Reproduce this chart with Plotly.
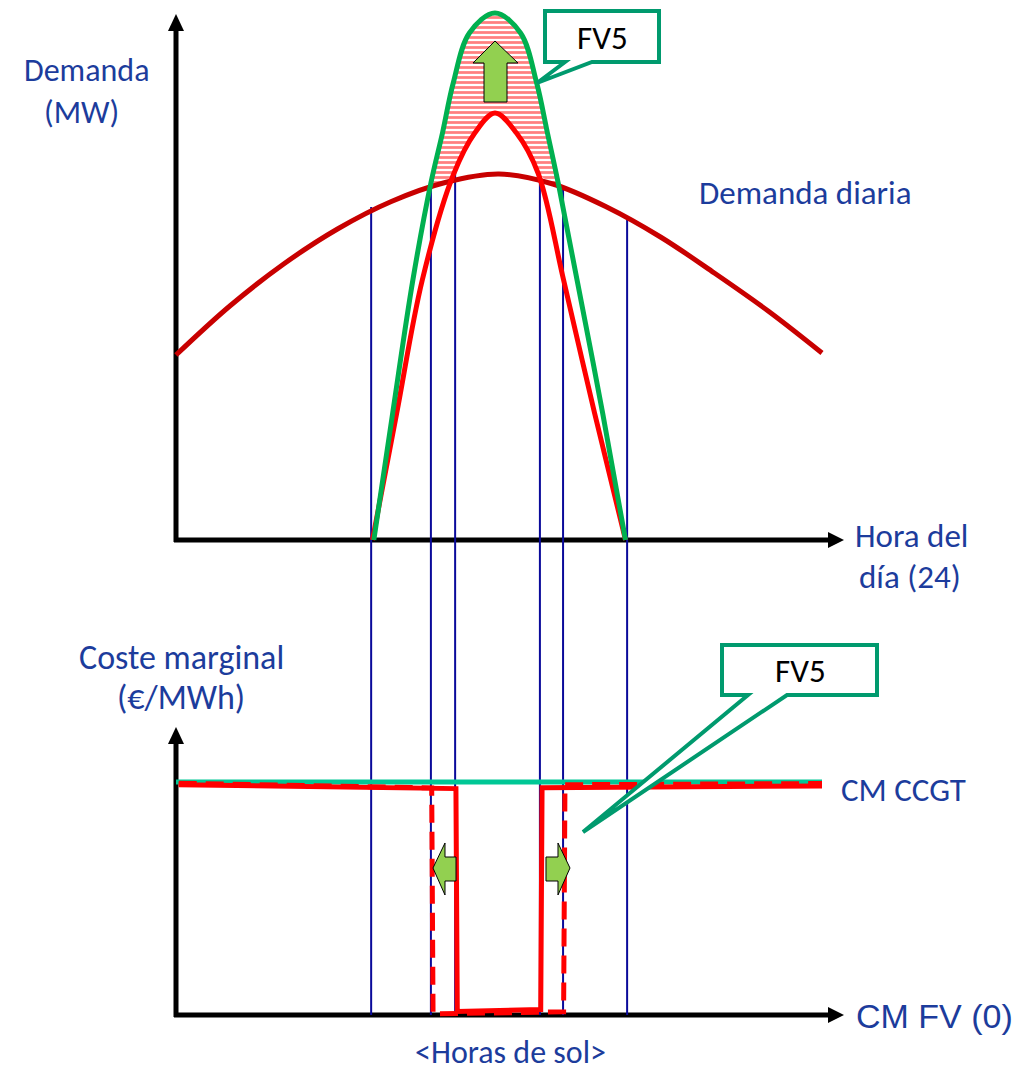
import plotly.graph_objects as go

# ---------------- data ----------------
# Top panel: demand (MW, arbitrary units) vs hour of the day
demand_hours = [0, 2, 4, 6, 8, 10, 12, 14, 16, 18, 20, 22, 24]
demand_mw = [37, 46.8, 55.2, 62.2, 67.7, 71.5, 73.2, 71.2, 66.6, 60.6, 53.4, 45.8, 37.4]

# FV (solar) peak curves
red_hours = [7.3, 8.2, 9.15, 10.3, 11.1, 11.85, 12.65, 13.45, 14.4, 15.55, 16.7]
red_mw = [0, 25.4, 52, 73, 81.4, 85.4, 81.4, 73.4, 52, 25.4, 0]

green_hours = [7.35, 8.05, 8.8, 9.47, 9.9, 10.3, 10.9, 11.85, 12.8, 13.4, 13.8, 14.23, 14.9, 15.85, 16.7]
green_mw = [0, 25.4, 52, 71.4, 81.4, 91.4, 101.4, 105.4, 101.4, 91.4, 81.4, 70.6, 52, 25.4, 0]

# Vertical guide lines (hours) and where they start on the demand curve
guide_hours = [7.25, 9.47, 10.37, 13.52, 14.38, 16.76]
guide_top_mw = [66.6, 71.0, 73.4, 72.0, 70.0, 64.0]

# Bottom panel: marginal cost (EUR/MWh, arbitrary units)
ccgt_hours = [0, 24]
ccgt_cm = [60, 60]
cm_solid_hours = [0.1, 10.4, 10.45, 13.55, 13.6, 24]
cm_solid = [59.3, 58.3, 0.9, 1.4, 58.5, 59.0]
cm_dashed_hours = [0.1, 9.5, 9.55, 14.4, 14.45, 24]
cm_dashed = [59.7, 58.5, 0.3, 0.8, 59.3, 59.6]

# ---------------- figure geometry ----------------
W, H = 1016, 1071
SPLIT = 600  # pixel row separating the two panels


def PX(x):
    return x / W


def PY(y):
    return 1 - y / H


def poly(points):
    return "M " + " L ".join(f"{PX(x):.5f},{PY(y):.5f}" for x, y in points) + " Z"


TEXT_BLUE = "#1C3C9C"
FONT = "Calibri, Carlito, Lato, sans-serif"
NAVY = "#0A0A9A"
CALLOUT = "#009A6E"
ARROW_GREEN = "#92D050"

fig = go.Figure()

# --- hatched area between the green curve and max(red, demand) ---
up = [(h, m) for h, m in zip(green_hours, green_mw) if 9.47 <= h <= 14.23]
low = []
low += [(h, m) for h, m in zip(demand_hours, demand_mw) if 13.45 < h < 14.23][::-1]
low += [(h, m) for h, m in zip(red_hours, red_mw) if 10.3 <= h <= 13.45][::-1]
low += [(h, m) for h, m in zip(demand_hours, demand_mw) if 9.47 < h < 10.3][::-1]
poly_pts = up + low
fig.add_trace(go.Scatter(
    x=[p[0] for p in poly_pts], y=[p[1] for p in poly_pts],
    mode="lines", line=dict(width=0, shape="spline"), fill="toself",
    fillcolor="white",
    fillpattern=dict(shape="-", fgcolor="#FF0000", bgcolor="white", size=5, solidity=0.55),
    hoverinfo="skip", showlegend=False))

# --- vertical guide lines (top panel part and bottom panel part) ---
gx, gy = [], []
for h, t in zip(guide_hours, guide_top_mw):
    gx += [h, h, None]
    gy += [t, -20, None]
fig.add_trace(go.Scatter(x=gx, y=gy, mode="lines", line=dict(color=NAVY, width=2),
                         hoverinfo="skip", showlegend=False))
gx2, gy2 = [], []
for h in guide_hours:
    gx2 += [h, h, None]
    gy2 += [120, 0, None]
fig.add_trace(go.Scatter(x=gx2, y=gy2, yaxis="y2", mode="lines", line=dict(color=NAVY, width=2),
                         hoverinfo="skip", showlegend=False))

# --- curves in top panel ---
fig.add_trace(go.Scatter(x=demand_hours, y=demand_mw, mode="lines",
                         line=dict(color="#C80000", width=5, shape="spline"),
                         hoverinfo="skip", showlegend=False))
fig.add_trace(go.Scatter(x=red_hours, y=red_mw, mode="lines",
                         line=dict(color="#FF0000", width=5, shape="spline"),
                         hoverinfo="skip", showlegend=False))
fig.add_trace(go.Scatter(x=green_hours, y=green_mw, mode="lines",
                         line=dict(color="#00B050", width=5, shape="spline"),
                         hoverinfo="skip", showlegend=False))

# --- bottom panel lines ---
fig.add_trace(go.Scatter(x=ccgt_hours, y=ccgt_cm, yaxis="y2", mode="lines",
                         line=dict(color="#00C896", width=5),
                         hoverinfo="skip", showlegend=False))
fig.add_trace(go.Scatter(x=cm_solid_hours, y=cm_solid, yaxis="y2", mode="lines",
                         line=dict(color="#FF0000", width=5),
                         hoverinfo="skip", showlegend=False))
fig.add_trace(go.Scatter(x=cm_dashed_hours, y=cm_dashed, yaxis="y2", mode="lines",
                         line=dict(color="#FF0000", width=5, dash="18px,9px"),
                         hoverinfo="skip", showlegend=False))

# ---------------- decorations (shapes) ----------------
shapes = []
# axes
for (x0, y0, x1, y1) in [(176, 542, 176, 28), (174, 540, 830, 540),
                         (176, 1017, 176, 742), (174, 1015, 830, 1015)]:
    shapes.append(dict(type="line", xref="paper", yref="paper", x0=PX(x0), y0=PY(y0),
                       x1=PX(x1), y1=PY(y1), line=dict(color="black", width=5), layer="below"))
for pts in [[(176, 14), (184, 31), (168, 31)],
            [(844, 540), (828, 532), (828, 548)],
            [(176, 727), (184, 744), (168, 744)],
            [(844, 1015), (828, 1007), (828, 1023)]]:
    shapes.append(dict(type="path", xref="paper", yref="paper", path=poly(pts),
                       fillcolor="black", line=dict(width=0), layer="below"))

# green arrows
arrow_line = dict(color="black", width=1)
shapes.append(dict(type="path", xref="paper", yref="paper",
                   path=poly([(484, 102), (507, 102), (507, 63), (518, 63), (495, 41),
                              (473, 63), (484, 63)]),
                   fillcolor=ARROW_GREEN, line=arrow_line))
shapes.append(dict(type="path", xref="paper", yref="paper",
                   path=poly([(433, 868), (445, 843), (445, 857), (456, 857), (456, 881),
                              (445, 881), (445, 895)]),
                   fillcolor=ARROW_GREEN, line=arrow_line))
shapes.append(dict(type="path", xref="paper", yref="paper",
                   path=poly([(546, 857), (558, 857), (558, 843), (570, 868), (558, 895),
                              (558, 881), (546, 881)]),
                   fillcolor=ARROW_GREEN, line=arrow_line))

# callouts
shapes.append(dict(type="path", xref="paper", yref="paper",
                   path=poly([(545, 11), (659, 11), (659, 62), (592, 62), (537, 83),
                              (565, 62), (545, 62)]),
                   fillcolor="white", line=dict(color=CALLOUT, width=4)))
shapes.append(dict(type="path", xref="paper", yref="paper",
                   path=poly([(722, 645), (877, 645), (877, 695), (787, 695), (583, 832),
                              (748, 695), (722, 695)]),
                   fillcolor="white", line=dict(color=CALLOUT, width=4)))

# ---------------- text ----------------
annotations = []


def label(text, cx, cy, size=33, color=TEXT_BLUE, family=FONT):
    annotations.append(dict(text=text, x=PX(cx), y=PY(cy), xref="paper", yref="paper",
                            xanchor="center", yanchor="middle", showarrow=False,
                            font=dict(size=size, color=color, family=family)))


label("Demanda", 86, 71, size=32)
label("(MW)", 81, 113, size=32)
label("Demanda diaria", 805, 193)
label("Hora del", 911, 536)
label("día (24)", 910, 577)
label("Coste marginal", 181, 657, size=34)
label("(€/MWh)", 181, 697, size=34)
label("CM CCGT", 903, 790)
label("CM FV (0)", 934, 1016, size=34, family="Liberation Sans, Arial, sans-serif")
label("&lt;Horas de sol&gt;", 510, 1052, size=32)
label("FV5", 602, 38, size=33, color="black")
label("FV5", 800, 671, size=33, color="black")

# ---------------- layout ----------------
sx = (822 - 176) / 24.0
x_range = [(0 - 176) / sx, (W - 176) / sx]
y_range = [(540 - SPLIT) / 5.0, 540 / 5.0]
k2 = 233 / 60.0
y2_range = [(1015 - H) / k2, (1015 - SPLIT) / k2]
dom_split = 1 - SPLIT / H

fig.update_layout(
    width=W, height=H, margin=dict(l=0, r=0, t=0, b=0, pad=0),
    paper_bgcolor="white", plot_bgcolor="rgba(0,0,0,0)",
    showlegend=False,
    xaxis=dict(range=x_range, visible=False, fixedrange=True),
    yaxis=dict(range=y_range, domain=[dom_split, 1], visible=False, fixedrange=True),
    yaxis2=dict(range=y2_range, domain=[0, dom_split], anchor="x", visible=False, fixedrange=True),
    shapes=shapes, annotations=annotations,
)

fig.write_html("out.html", config={"displayModeBar": False},
               post_script="document.body.style.margin='0px';document.body.style.overflow='hidden';")
